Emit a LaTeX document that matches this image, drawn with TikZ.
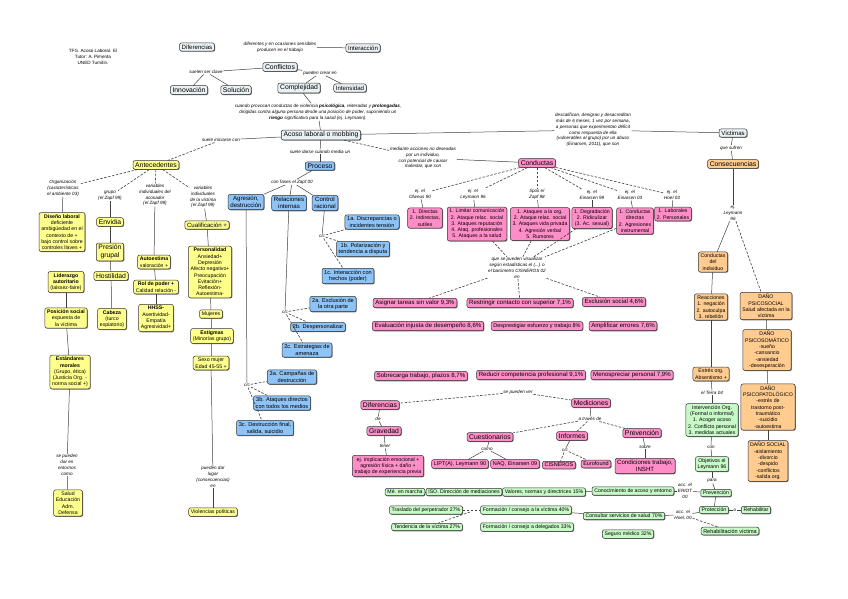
\documentclass[tikz,border=0pt]{standalone}
\usepackage{fontspec}
\setmainfont{Liberation Sans}
\usetikzlibrary{shadows}
\definecolor{cwht}{HTML}{EAF1F4}
\definecolor{cyel}{HTML}{FFFF8C}
\definecolor{cblu}{HTML}{8DC3F7}
\definecolor{cpnk}{HTML}{FF8EC8}
\definecolor{cgrn}{HTML}{C8FAC8}
\definecolor{corg}{HTML}{FFCB8F}
\newcommand\nodefnt{\fontsize{5.2}{6.3}\selectfont}
\newcommand\labfnt{\fontsize{4.6}{5.8}\selectfont\itshape}
\newcommand\smfnt{\fontsize{5.5}{6.5}\selectfont}
\newcommand\midfnt{\fontsize{6.1}{7.1}\selectfont}
\newcommand\bigfnt{\fontsize{6.8}{7.8}\selectfont}
\tikzset{
  box/.style={draw=black!80, rounded corners=2pt, line width=0.5pt, inner xsep=2.2pt, inner ysep=1.8pt,
    align=center, font=\nodefnt,
    drop shadow={shadow xshift=0.7pt, shadow yshift=-0.7pt, fill=black!70, opacity=0.8}},
  nwht/.style={box, fill=cwht},
  nyel/.style={box, fill=cyel},
  nblu/.style={box, fill=cblu, font=\fontsize{5.6}{6.6}\selectfont},
  npnk/.style={box, fill=cpnk},
  ngrn/.style={box, fill=cgrn},
  norg/.style={box, fill=corg},
  big/.style={font=\bigfnt},
  mid/.style={font=\midfnt},
  sm/.style={font=\smfnt},
  lab/.style={align=center, font=\labfnt, inner sep=0.6pt},
  ln/.style={draw=black!75, line width=0.5pt},
  dl/.style={draw=black!75, line width=0.6pt, dash pattern=on 2.5pt off 1.5pt}
}
\begin{document}
\begin{tikzpicture}[x=1pt,y=-1pt]
\fill[white] (0,0) rectangle (848,599);
\useasboundingbox (0,0) rectangle (848,599);

% ---------- top ----------
\node[lab,font=\labfnt\upshape] (tfg) at (93,57) {TFG. Acoso Laboral. El\\Tutor: A. Pimenta\\UNED Turnitin.};
\node[nwht,mid] (difA) at (197,47) {Diferencias};
\node[lab] (tdif) at (280,47) {diferentes y en ocasiones sensibles\\producen en el trabajo};
\node[nwht,mid] (inter) at (363,48) {Interacción};
\node[nwht,big] (confl) at (280,67) {Conflictos};
\node[lab] (tclave) at (206,72) {suelen ser clave};
\node[lab] (tcrear) at (320,73) {pueden crear en};
\node[nwht,big] (innov) at (189,90) {Innovación};
\node[nwht,big] (soluc) at (236,90) {Solución};
\node[nwht,big] (compl) at (299,88) {Complejidad};
\node[nwht,mid] (inten) at (350,88) {Intensidad};
\node[lab] (tpar) at (318,112) {cuando provocan conductas de violencia \textbf{psicológica}, reiteradas y \textbf{prolongadas},\\dirigidas contra alguna persona desde una posición de poder, suponiendo un\\\textbf{riesgo} significativo para la salud (ej. Leymann).};
\node[nwht,big] (acoso) at (321,135) {Acoso laboral o mobbing};
\node[lab] (tinic) at (221,140) {suele iniciarse con};
\node[lab] (tdarse) at (320,152) {suele darse cuando media un};
\node[lab] (tmed) at (423,158) {mediante acciones no deseadas\\por un individuo,\\con potencial de causar\\malestar, que son};
\node[lab] (tdesc) at (593,130) {descalifican, denigran y desacreditan\\más de 6 meses, 1 vez por semana,\\a personas que experimentan déficit\\como respuesta de ella\\(vulnerables al grupo) por un abuso\\(Einarsen, 2011), que son};
\node[nwht,mid] (vict) at (733,133) {Víctimas};
\node[lab] (tsuf) at (731,148) {que sufren};

\draw[ln] (tdif) -- (inter);
\draw[ln] (confl) -- (tclave); \draw[ln] (tclave) -- (innov); \draw[ln] (tclave) -- (soluc);
\draw[ln] (confl) -- (tcrear); \draw[ln] (tcrear) -- (compl); \draw[ln] (tcrear) -- (inten);
\draw[ln] (compl) -- (tpar); \draw[ln] (tpar) -- (acoso);
\draw[ln] (acoso) -- (tinic);
\draw[ln] (acoso) -- (tdarse);
\draw[dl] (acoso) -- (tmed);
\draw[ln] (acoso) -- (tdesc); \draw[ln] (tdesc) -- (vict);
\draw[ln] (vict) -- (tsuf);

% ---------- antecedentes ----------
\node[nyel,big] (antec) at (156,165) {Antecedentes};
\node[lab] (torg) at (63,188) {Organización\\(características\\el ambiente 03)};
\node[lab] (tgru) at (110,196) {grupo\\(el Zapf 99)};
\node[lab] (tacos) at (155,195) {variables\\individuales del\\acosador\\(el Zapf 99)};
\node[lab] (tvic) at (203,197) {variables\\individuales\\de la víctima\\(el Zapf 99)};
\draw[dl] (tinic) -- (antec);
\foreach \t in {torg,tgru,tacos,tvic} \draw[dl] (antec) -- (\t);

\node[nyel] (dis) at (62,232) {\textbf{Diseño laboral}\\deficiente\\ambigüedad en el\\contexto de +\\bajo control sobre\\controles llaves +};
\node[nyel] (lid) at (66,282) {\textbf{Liderazgo}\\\textbf{autoritario}\\(laissez-faire)};
\node[nyel] (pos) at (66,318) {\textbf{Posición social}\\expuesta de\\la víctima};
\node[nyel] (est) at (70,372) {\textbf{Estándares}\\\textbf{morales}\\(Grupo, ética)\\(Justicia Org. -\\norma social +)};
\node[lab] (tent) at (67,465) {se pueden\\dar en\\entornos\\como};
\node[nyel] (sal) at (68,503) {Salud\\Educación\\Adm.\\Defensa};
\draw[ln] (torg) -- (dis);
\draw[ln] (lid) -- (pos); \draw[ln] (pos) -- (est); \draw[ln] (est) -- (tent); \draw[ln] (tent) -- (sal);

\node[nyel,big] (env) at (110,222) {Envidia};
\node[nyel,big] (pres) at (110,252) {Presión\\grupal};
\node[nyel,big] (host) at (111,276) {Hostilidad};
\node[nyel] (cab) at (112,319) {\textbf{Cabeza}\\(turco\\expiatorio)};
\draw[ln] (tgru) -- (env); \draw[ln] (env) -- (pres); \draw[ln] (pres) -- (host); \draw[ln] (host) -- (cab);

\node[nyel] (aut) at (154,262) {\textbf{Autoestima}\\valoración +};
\node[nyel] (rol) at (156,287) {\textbf{Rol de poder +}\\Calidad relación -};
\node[nyel] (hhss) at (156,318) {\textbf{HHSS-}\\Asertividad-\\Empatía\\Agresividad+};
\draw[ln] (tacos) -- (aut); \draw[ln] (aut) -- (rol); \draw[ln] (rol) -- (hhss);

\node[nyel,mid] (cual) at (207,225) {Cualificación +};
\node[nyel] (per) at (210,272) {\textbf{Personalidad}\\Ansiedad+\\Depresión\\Afecto negativo+\\Preocupación\\Evitación+\\Reflexión-\\Autoestima-};
\node[nyel] (muj) at (211,314) {Mujeres};
\node[nyel] (estg) at (212,336) {\textbf{Estigmas}\\(Minorías grupo)};
\node[nyel] (sexo) at (211,363) {Sexo mujer\\Edad 45-55 +};
\node[lab] (tpue) at (213,477) {pueden dar\\lugar\\(consecuencias)\\en};
\node[nyel] (viol) at (213,512) {Violencias políticas};
\draw[ln] (tvic) -- (cual); \draw[ln] (cual) -- (per); \draw[ln] (per) -- (muj);
\draw[ln] (muj) -- (estg); \draw[ln] (estg) -- (sexo); \draw[ln] (sexo) -- (tpue); \draw[ln] (tpue) -- (viol);

% ---------- proceso ----------
\node[nblu,big] (proc) at (320,166) {Proceso};
\node[lab] (tfas) at (292,182) {con fases el Zapf 00};
\node[nblu,mid] (agr) at (246,202) {Agresión,\\destrucción};
\node[nblu,mid] (rel) at (289,203) {Relaciones\\internas};
\node[nblu,mid] (ctl) at (325,203) {Control\\racional};
\draw[ln] (tdarse) -- (proc); \draw[ln] (proc) -- (tfas);
\draw[ln] (tfas) -- (agr); \draw[ln] (tfas) -- (rel); \draw[ln] (tfas) -- (ctl);

\node[lab] (c1) at (322,236) {c/c};
\node[nblu] (n1a) at (372,222) {1a. Discrepancias o\\incidentes tensión};
\node[nblu] (n1b) at (363,249) {1b. Polarización y\\tendencia a disputa};
\node[nblu] (n1c) at (348,276) {1c. Interacción con\\hechos (poder)};
\draw[ln] (ctl) -- (c1);
\draw[dl] (c1) -- (n1a); \draw[dl] (c1) -- (n1b); \draw[dl] (c1) -- (n1c);

\node[lab] (c2) at (285,312) {c/c};
\node[nblu] (n2a) at (333,304) {2a. Exclusión de\\la otra parte};
\node[nblu] (n2b) at (318,327) {2b. Despersonalizar};
\node[nblu] (n2c) at (307,350) {2c. Estrategias de\\amenaza};
\draw[ln] (rel) -- (c2);
\draw[dl] (c2) -- (n2a); \draw[dl] (c2) -- (n2b); \draw[dl] (c2) -- (n2c);

\node[lab] (c3) at (247,385) {c/c};
\node[nblu] (n3a) at (292,377) {3a. Campañas de\\destrucción};
\node[nblu] (n3b) at (282,403) {3b. Ataques directos\\con todos los medios};
\node[nblu] (n3c) at (265,428) {3c. Destrucción final,\\salida, suicidio};
\draw[ln] (agr) -- (c3);
\draw[dl] (c3) -- (n3a); \draw[dl] (c3) -- (n3b); \draw[dl] (c3) -- (n3c);

% ---------- conductas ----------
\node[npnk,big] (cond) at (537,163) {Conductas};
\draw[ln] (tmed) -- (cond);
\node[lab] (l1) at (420,194) {ej. el\\Olweus 90};
\node[lab] (l2) at (473,194) {ej. el\\Leymann 96};
\node[lab] (l3) at (537,194) {tipos el\\Zapf 98};
\node[lab] (l4) at (592,195) {ej. el\\Einarsen 99};
\node[lab] (l5) at (630,195) {ej. el\\Einarsen 03};
\node[lab] (l6) at (672,195) {ej. el\\Hoel 03};
\foreach \t in {l1,l2,l3,l4,l5,l6} \draw[dl] (cond) -- (\t);
\node[npnk] (b1) at (425,218) {1. Directas\\2. Indirectas,\\sutiles};
\node[npnk] (b2) at (477,224) {1. Limitar comunicación\\2. Ataque relac. social\\3. Ataques reputación\\4. Ataq. profesionales\\5. Ataques a la salud};
\node[npnk] (b3) at (540,224) {1. Ataques a la org.\\2. Ataque relac. social\\3. Ataques vida privada\\4. Agresión verbal\\5. Rumores};
\node[npnk] (b4) at (592,218) {1. Degradación\\2. Ridiculizar\\(3. Ac. sexual)};
\node[npnk] (b5) at (635,221) {1. Conductas\\directas\\2. Agresiones\\instrumental};
\node[npnk] (b6) at (673,214) {1. Laborales\\2. Personales};
\draw[ln] (l1) -- (b1); \draw[ln] (l2) -- (b2); \draw[ln] (l3) -- (b3);
\draw[ln] (l4) -- (b4); \draw[ln] (l5) -- (b5); \draw[ln] (l6) -- (b6);

\node[lab] (tvis) at (517,268) {que se pueden visualizar\\según estadísticas el (...) o\\el barómetro CISNEROS 02\\en};
\draw[dl] (b2) -- (tvis); \draw[dl] (b3) -- (tvis); \draw[dl] (b4) -- (tvis); \draw[dl] (b5) -- (tvis);

\node[npnk,mid] (s1) at (415,303) {Asignar tareas sin valor 9,3\%};
\node[npnk,mid] (s2) at (520,303) {Restringir contacto con superior 7,1\%};
\node[npnk,mid] (s3) at (614,302) {Exclusión social 4,6\%};
\node[npnk,mid] (s4) at (428,326) {Evaluación injusta de desempeño 8,6\%};
\node[npnk,sm] (s5) at (537,326) {Desprestigiar esfuerzo y trabajo 8\%};
\node[npnk,mid] (s6) at (623,326) {Amplificar errores 7,6\%};
\node[npnk,mid] (s7) at (421,376) {Sobrecarga trabajo, plazos 8,7\%};
\node[npnk,mid] (s8) at (531,375) {Reducir competencia profesional 9,1\%};
\node[npnk,mid] (s9) at (632,375) {Menospreciar personal 7,9\%};
\draw[dl] (tvis) -- (s1); \draw[dl] (tvis) -- (s2); \draw[dl] (tvis) -- (s3);

\node[lab] (tver) at (518,392) {se pueden ver};
\node[npnk,big] (difP) at (380,405) {Diferencias};
\node[lab] (tde) at (378,419) {de};
\node[npnk,big] (grav) at (384,431) {Gravedad};
\node[lab] (tten) at (385,446) {tener};
\node[npnk] (impl) at (388,466) {ej. implicación emocional +\\agresión física + daño +\\trabajo de experiencia previa};
\draw[dl] (tver) -- (difP);
\draw[ln] (difP) -- (tde); \draw[ln] (tde) -- (grav); \draw[ln] (grav) -- (tten); \draw[ln] (tten) -- (impl);

\node[npnk,big] (medi) at (591,403) {Mediciones};
\draw[dl] (tver) -- (medi);
\node[lab] (ttra) at (590,419) {a través de};
\node[npnk,big] (cues) at (490,437) {Cuestionarios};
\node[npnk,big] (info) at (572,436) {Informes};
\node[npnk,big] (prevP) at (642,433) {Prevención};
\draw[ln] (medi) -- (ttra);
\draw[dl] (ttra) -- (cues); \draw[dl] (ttra) -- (info); \draw[dl] (ttra) -- (prevP);
\node[lab] (tcomo) at (487,449) {como};
\node[npnk,sm] (lipt) at (460,464) {LIPT(A), Leymann 90};
\node[npnk,sm] (naq) at (515,464) {NAQ, Einarsen 09};
\draw[ln] (cues) -- (tcomo); \draw[ln] (tcomo) -- (lipt); \draw[ln] (tcomo) -- (naq);
\node[lab] (tcc) at (565,450) {c/c};
\node[npnk,sm] (cis) at (559,465) {CISNEROS};
\node[npnk,sm] (euro) at (596,464) {Eurofound};
\draw[ln] (info) -- (tcc); \draw[dl] (tcc) -- (cis); \draw[dl] (tcc) -- (euro);
\node[lab] (tsob) at (645,447) {sobre};
\node[npnk,mid] (condi) at (645,466) {Condiciones trabajo,\\INSHT};
\draw[ln] (prevP) -- (tsob); \draw[ln] (tsob) -- (condi);

% ---------- consecuencias ----------
\node[norg,big] (conseq) at (733,164) {Consecuencias};
\draw[ln] (tsuf) -- (conseq);
\node[lab] (tley) at (733,213) {ej.\\Leymann\\96};
\node[norg] (cind) at (713,262) {Conductas\\del\\individuo};
\node[norg] (reac) at (711,307) {Reacciones\\1. negación\\2. autoculpa\\3. rebelión};
\node[norg] (dps) at (766,306) {DAÑO\\PSICOSOCIAL\\Salud afectada en la\\víctima};
\node[norg] (dpsm) at (767,350) {DAÑO\\PSICOSOMÁTICO\\-sueño\\-cansancio\\-ansiedad\\-desesperación};
\node[norg] (dpsp) at (768,407) {DAÑO\\PSICOPATOLÓGICO\\-estrés de\\trastorno post-\\traumático\\-suicidio\\-autoestima};
\node[norg] (dsoc) at (768,461) {DAÑO SOCIAL\\-aislamiento\\-divorcio\\-despido\\-conflictos\\-salida org.};
\node[norg] (estr) at (711,374) {Estrés org.\\Absentismo +};
\draw[ln] (conseq) -- (tley); \draw[ln] (tley) -- (cind); \draw[dl] (tley) -- (dps);
\draw[ln] (cind) -- (reac); \draw[ln] (reac) -- (estr);
\draw[ln] (dps) -- (dpsm); \draw[ln] (dpsm) -- (dpsp); \draw[ln] (dpsp) -- (dsoc);

\node[lab] (tter) at (712,393) {el Terra 04};
\node[ngrn] (interv) at (712,420) {Intervención Org.\\(Formal o informal)\\1. Acoger acoso\\2. Conflicto personal\\3. medidas actuales};
\node[lab] (tcon) at (711,447) {con};
\node[ngrn] (obj) at (712,464) {Objetivos el\\Leymann 96};
\node[lab] (tpara) at (712,481) {para};
\node[ngrn] (prevG) at (716,493) {Prevención};
\node[ngrn] (prot) at (714,510) {Protección};
\node[lab] (to) at (735,510) {o};
\node[ngrn] (rehs) at (756,510) {Rehabilitar};
\node[ngrn,sm] (rehv) at (730,531) {Rehabilitación víctima};
\draw[ln] (estr) -- (tter); \draw[ln] (tter) -- (interv); \draw[ln] (interv) -- (tcon);
\draw[ln] (tcon) -- (obj); \draw[ln] (obj) -- (tpara); \draw[ln] (tpara) -- (prevG);
\draw[ln] (prevG) -- (prot); \draw[ln] (prot) -- (to); \draw[ln] (to) -- (rehs);

% ---------- green measures ----------
\node[ngrn] (g1) at (405,492) {Mé. en marcha};
\node[ngrn] (g2) at (464,492) {ISO. Dirección de mediaciones};
\node[ngrn] (g3) at (544,492) {Valores, normas y directrices 15\%};
\node[ngrn] (g4) at (633,491) {Conocimiento de acoso y entorno};
\node[lab] (teri) at (685,491) {acc. el\\ERIOT\\00};
\node[ngrn] (g5) at (426,510) {Traslado del perpetrador 27\%};
\node[ngrn] (g6) at (526,510) {Formación / consejo a la víctima 40\%};
\node[ngrn] (g7) at (624,516) {Consultar servicios de salud 70\%};
\node[lab] (thoel) at (683,515) {acc. el\\Hoel, 00};
\node[ngrn] (g8) at (427,527) {Tendencia de la víctima 27\%};
\node[ngrn] (g9) at (527,527) {Formación / consejo a delegados 33\%};
\node[ngrn] (g10) at (628,534) {Seguro médico 32\%};
\coordinate (jn) at (470,512);
\draw[ln] (g1) -- (g2); \draw[ln] (g2) -- (g3); \draw[ln] (g3) -- (g4);
\draw[ln] (g4) -- (teri); \draw[ln] (teri) -- (prevG);
\draw[dl] (g5) -- (g6); \draw[dl] (jn) -- (g8);
\draw[ln] (g6) -- (g7); \draw[ln] (g7) -- (thoel); \draw[ln] (thoel) -- (prot);
\draw[dl] (thoel) -- (rehv);
\end{tikzpicture}
\end{document}
